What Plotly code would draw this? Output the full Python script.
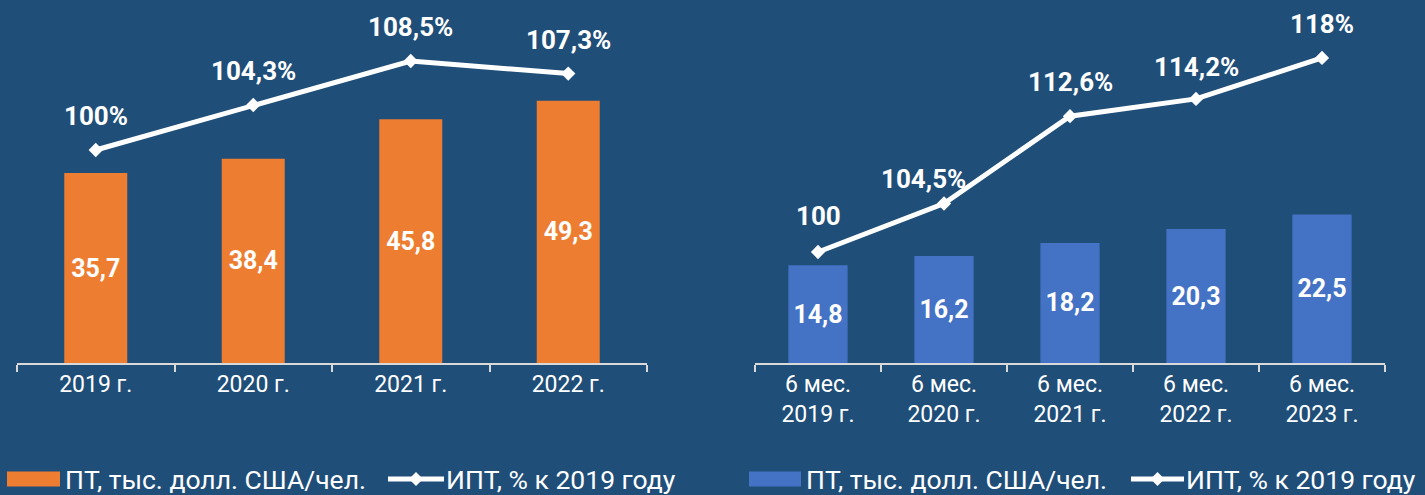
import plotly.graph_objects as go

# ---------------- data ----------------
years_left = ["2019 г.", "2020 г.", "2021 г.", "2022 г."]
pt_left = [35.7, 38.4, 45.8, 49.3]
ipt_left = [100.0, 104.3, 108.5, 107.3]
ipt_left_labels = ["100%", "104,3%", "108,5%", "107,3%"]

periods_right = ["6 мес.<br>2019 г.", "6 мес.<br>2020 г.", "6 мес.<br>2021 г.",
                 "6 мес.<br>2022 г.", "6 мес.<br>2023 г."]
pt_right = [14.8, 16.2, 18.2, 20.3, 22.5]
ipt_right = [100.0, 104.5, 112.6, 114.2, 118.0]
ipt_right_labels = ["100", "104,5%", "112,6%", "114,2%", "118%"]

legend_bar = "ПТ, тыс. долл. США/чел."
legend_line = "ИПТ, % к 2019 году"

# ---------------- style ----------------
W, H = 1425, 495
BG = "#1F4E79"
ORANGE = "#ED7D31"
BLUE = "#4472C4"
WHITE = "#FFFFFF"
AXIS = "#D9D9D9"
FONT = "Roboto"
LABEL_SIZE = 26
BAR_SIZE = 25
TICK_SIZE = 23
LEG_SIZE = 26.5


def px_x(p):
    return p / W


def px_y(p):
    return 1 - p / H


def fmt(v):
    return f"{v:.1f}".replace(".", ",")


fig = go.Figure()

fig.add_trace(go.Bar(x=years_left, y=pt_left, xaxis="x", yaxis="y", width=0.4,
                     marker=dict(color=ORANGE, line=dict(width=0)),
                     text=[fmt(v) for v in pt_left], textposition="inside",
                     insidetextanchor="middle", constraintext="none",
                     textfont=dict(family=FONT, size=BAR_SIZE, color=WHITE, weight="bold"),
                     showlegend=False, hoverinfo="skip"))
fig.add_trace(go.Scatter(x=years_left, y=ipt_left, xaxis="x", yaxis="y2",
                         mode="lines+markers",
                         line=dict(color=WHITE, width=5),
                         marker=dict(symbol="diamond", size=11, color=WHITE),
                         showlegend=False, hoverinfo="skip"))

fig.add_trace(go.Bar(x=periods_right, y=pt_right, xaxis="x2", yaxis="y3", width=0.47,
                     marker=dict(color=BLUE, line=dict(width=0)),
                     text=[fmt(v) for v in pt_right], textposition="inside",
                     insidetextanchor="middle", constraintext="none",
                     textfont=dict(family=FONT, size=BAR_SIZE, color=WHITE, weight="bold"),
                     showlegend=False, hoverinfo="skip"))
fig.add_trace(go.Scatter(x=periods_right, y=ipt_right, xaxis="x2", yaxis="y4",
                         mode="lines+markers",
                         line=dict(color=WHITE, width=5),
                         marker=dict(symbol="diamond", size=11, color=WHITE),
                         showlegend=False, hoverinfo="skip"))

annotations = []
for x, y, t in zip(years_left, ipt_left, ipt_left_labels):
    annotations.append(dict(x=x, y=y, xref="x", yref="y2", text=t, showarrow=False,
                            yshift=34,
                            font=dict(family=FONT, size=LABEL_SIZE, color=WHITE, weight="bold")))
right_xshift = [0, -21, 0, 0, 0]
right_yshift = [36, 24, 34, 32, 34]
for x, y, t, dx, dy in zip(periods_right, ipt_right, ipt_right_labels, right_xshift, right_yshift):
    annotations.append(dict(x=x, y=y, xref="x2", yref="y4", text=t, showarrow=False,
                            xshift=dx, yshift=dy,
                            font=dict(family=FONT, size=LABEL_SIZE, color=WHITE, weight="bold")))

# manual legends
shapes = []
legend_font = dict(family=FONT, size=LEG_SIZE, color=WHITE)
for (rx0, rx1, col, tx1, lx0, lx1, tx2) in [
    (7, 60, ORANGE, 64, 388, 444, 445),
    (749, 801, BLUE, 805, 1131, 1184, 1185),
]:
    cy = 479
    shapes.append(dict(type="rect", xref="paper", yref="paper",
                       x0=px_x(rx0), x1=px_x(rx1), y0=px_y(cy + 7.5), y1=px_y(cy - 7.5),
                       fillcolor=col, line=dict(width=0)))
    shapes.append(dict(type="line", xref="paper", yref="paper",
                       x0=px_x(lx0), x1=px_x(lx1), y0=px_y(cy), y1=px_y(cy),
                       line=dict(color=WHITE, width=5)))
    mx = (lx0 + lx1) / 2
    d = 7
    path = (f"M {px_x(mx - d)} {px_y(cy)} L {px_x(mx)} {px_y(cy - d)} "
            f"L {px_x(mx + d)} {px_y(cy)} L {px_x(mx)} {px_y(cy + d)} Z")
    shapes.append(dict(type="path", xref="paper", yref="paper", path=path,
                       fillcolor=WHITE, line=dict(width=0)))
    annotations.append(dict(x=px_x(tx1), y=px_y(cy), xref="paper", yref="paper",
                            xanchor="left", yanchor="middle", text=legend_bar,
                            showarrow=False, font=legend_font, borderpad=0))
    annotations.append(dict(x=px_x(tx2), y=px_y(cy), xref="paper", yref="paper",
                            xanchor="left", yanchor="middle", text=legend_line,
                            showarrow=False, font=legend_font, borderpad=0))

ydom = [px_y(363), px_y(10)]
xaxis_common = dict(showgrid=False, zeroline=False, showline=True, linecolor=AXIS,
                    linewidth=1.5, ticks="outside", tickson="boundaries",
                    ticklen=7, tickcolor=AXIS, tickwidth=1.5,
                    tickfont=dict(family=FONT, size=TICK_SIZE, color=WHITE),
                    fixedrange=True)
yaxis_common = dict(visible=False, showgrid=False, zeroline=False, fixedrange=True)

fig.update_layout(
    width=W, height=H,
    margin=dict(l=0, r=0, t=0, b=0),
    paper_bgcolor=BG, plot_bgcolor=BG,
    showlegend=False,
    xaxis=dict(domain=[px_x(17), px_x(647)], anchor="y", **xaxis_common),
    xaxis2=dict(domain=[px_x(755), px_x(1385)], anchor="y3", **xaxis_common),
    yaxis=dict(domain=ydom, range=[0, 66.35], anchor="x", **yaxis_common),
    yaxis2=dict(domain=ydom, range=[79.66, 113.37], overlaying="y", anchor="x", **yaxis_common),
    yaxis3=dict(domain=ydom, range=[0, 53.5], anchor="x2", **yaxis_common),
    yaxis4=dict(domain=ydom, range=[89.7, 122.45], overlaying="y3", anchor="x2", **yaxis_common),
    annotations=annotations,
    shapes=shapes,
)

fig.write_html("out.html", config={"displayModeBar": False},
               post_script="document.body.style.margin='0';document.body.style.overflow='hidden';")
